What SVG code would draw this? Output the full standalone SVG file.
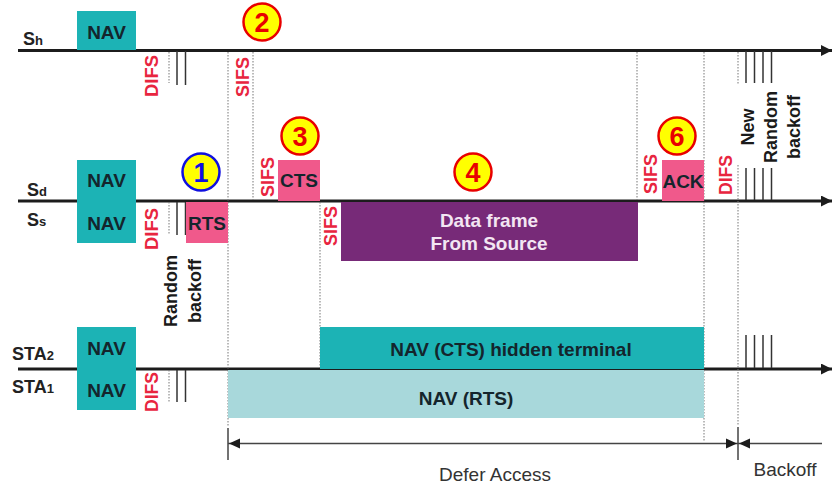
<svg xmlns="http://www.w3.org/2000/svg" width="834" height="485" viewBox="0 0 834 485">
<defs>
<marker id="arr" viewBox="0 0 10 10" refX="10" refY="5" markerWidth="11" markerHeight="11" markerUnits="userSpaceOnUse" orient="auto"><path d="M0,0 L10,5 L0,10 Z" fill="#1c1c1c"/></marker>
<style>
.axis{stroke:#1c1c1c;stroke-width:3;fill:none}
.dot{stroke:#777;stroke-width:1;stroke-dasharray:1.5 1.5;fill:none}
.tick{stroke:#333;stroke-width:1.5;fill:none}
.thin{stroke:#444;stroke-width:1.5;fill:none}
.nav{fill:#1cb3b5}
.lt{fill:#a8d8db}
.pink{fill:#f0598b}
.purple{fill:#772a78}
.lbl{font-family:"Liberation Sans",Arial,sans-serif;font-weight:bold;font-size:19px;fill:#14252c;text-anchor:middle}
.red{font-family:"Liberation Sans",Arial,sans-serif;font-weight:bold;font-size:19px;fill:#e8253f;text-anchor:middle}
.blk{font-family:"Liberation Sans",Arial,sans-serif;font-weight:bold;font-size:18px;fill:#1a1a1a;text-anchor:middle}
.row{font-family:"Liberation Sans",Arial,sans-serif;font-weight:bold;font-size:18px;fill:#222}
.plain{font-family:"Liberation Sans",Arial,sans-serif;font-size:19px;fill:#333;text-anchor:middle}
.circ{fill:#ffff00;stroke:#e80000;stroke-width:2.5}
.num{font-family:"Liberation Sans",Arial,sans-serif;font-weight:bold;font-size:27px;fill:#e80000;text-anchor:middle}
</style>
</defs>

<g id="connectors">
<!-- time axes -->
<line class="axis" x1="18" y1="50.5" x2="832" y2="50.5" marker-end="url(#arr)"/>
<line class="axis" x1="18" y1="201" x2="832" y2="201" marker-end="url(#arr)"/>
<line class="axis" x1="18" y1="369" x2="832" y2="369" marker-end="url(#arr)"/>
<!-- dotted guides -->
<line class="dot" x1="228" y1="52" x2="228" y2="426"/>
<line class="dot" x1="253" y1="52" x2="253" y2="200"/>
<line class="dot" x1="320" y1="202" x2="320" y2="368"/>
<line class="dot" x1="637" y1="52" x2="637" y2="200"/>
<line class="dot" x1="704" y1="52" x2="704" y2="442"/>
<line class="dot" x1="738" y1="52" x2="738" y2="84"/>
<line class="dot" x1="738" y1="165" x2="738" y2="426"/>
<!-- DIFS / backoff slots -->
<line class="dot" x1="169" y1="52" x2="169" y2="83"/>
<line class="tick" x1="177" y1="51" x2="177" y2="85"/>
<line class="tick" x1="185.5" y1="51" x2="185.5" y2="85"/>
<line class="dot" x1="169" y1="202" x2="169" y2="235"/>
<line class="tick" x1="177" y1="202" x2="177" y2="235"/>
<line class="tick" x1="185.5" y1="202" x2="185.5" y2="235"/>
<line class="dot" x1="169" y1="370" x2="169" y2="402"/>
<line class="tick" x1="177" y1="370" x2="177" y2="402"/>
<line class="tick" x1="185.5" y1="370" x2="185.5" y2="402"/>
<!-- new random backoff slots -->
<line class="tick" x1="746" y1="51" x2="746" y2="83"/>
<line class="tick" x1="754.5" y1="51" x2="754.5" y2="83"/>
<line class="tick" x1="763" y1="51" x2="763" y2="83"/>
<line class="tick" x1="771.5" y1="51" x2="771.5" y2="83"/>
<line class="tick" x1="746" y1="168" x2="746" y2="200"/>
<line class="tick" x1="754.5" y1="168" x2="754.5" y2="200"/>
<line class="tick" x1="763" y1="168" x2="763" y2="200"/>
<line class="tick" x1="771.5" y1="168" x2="771.5" y2="200"/>
<line class="tick" x1="746" y1="335" x2="746" y2="368"/>
<line class="tick" x1="754.5" y1="335" x2="754.5" y2="368"/>
<line class="tick" x1="763" y1="335" x2="763" y2="368"/>
<line class="tick" x1="771.5" y1="335" x2="771.5" y2="368"/>
<!-- defer access / backoff dimension -->
<line class="thin" x1="228" y1="428" x2="228" y2="460"/>
<line class="thin" x1="738" y1="427" x2="738" y2="460"/>
<line class="thin" x1="228" y1="443.5" x2="738" y2="443.5"/>
<line class="thin" x1="738" y1="443.5" x2="822" y2="443.5"/>
<path d="M229,443.5 L240,438.5 L240,448.5 Z" fill="#1c1c1c"/>
<path d="M737,443.5 L726,438.5 L726,448.5 Z" fill="#1c1c1c"/>
<path d="M739,443.5 L750,438.5 L750,448.5 Z" fill="#1c1c1c"/>
</g>

<g id="row-labels">
<text class="row" x="23" y="45">S<tspan font-size="13">h</tspan></text>
<text class="row" x="27" y="196">S<tspan font-size="13">d</tspan></text>
<text class="row" x="27" y="226">S<tspan font-size="13">s</tspan></text>
<text class="row" x="12" y="360">STA<tspan font-size="13">2</tspan></text>
<text class="row" x="12" y="393">STA<tspan font-size="13">1</tspan></text>
</g>

<g id="nav-sh"><rect class="nav" x="77" y="11" width="59" height="39"/><text class="lbl" x="106.5" y="38.5">NAV</text></g>
<g id="nav-sd"><rect class="nav" x="77" y="160" width="59" height="41"/><text class="lbl" x="106.5" y="187">NAV</text></g>
<g id="nav-ss"><rect class="nav" x="77" y="201" width="59" height="42"/><text class="lbl" x="106.5" y="230">NAV</text></g>
<g id="nav-sta2"><rect class="nav" x="77" y="327" width="59" height="42"/><text class="lbl" x="106.5" y="355">NAV</text></g>
<g id="nav-sta1"><rect class="nav" x="77" y="369" width="59" height="41"/><text class="lbl" x="106.5" y="397">NAV</text></g>

<g id="rts"><rect class="pink" x="186" y="202" width="42" height="41"/><text class="lbl" x="207" y="230">RTS</text></g>
<g id="cts"><rect class="pink" x="278" y="160" width="42" height="41"/><text class="lbl" x="299" y="187">CTS</text></g>
<g id="ack"><rect class="pink" x="662" y="160" width="42" height="41"/><text class="lbl" x="683" y="188">ACK</text></g>
<g id="data"><rect class="purple" x="341" y="202" width="297" height="59"/><text class="lbl" x="489" y="227" style="fill:#f3e6f3">Data frame</text><text class="lbl" x="489" y="250" style="fill:#f3e6f3">From Source</text></g>
<g id="nav-cts"><rect class="nav" x="320" y="327" width="384" height="42"/><text class="lbl" x="511" y="356">NAV (CTS) hidden terminal</text></g>
<g id="nav-rts"><rect class="lt" x="228" y="370" width="476" height="48"/><text class="lbl" x="466" y="405">NAV (RTS)</text></g>

<g id="ifs-labels">
<text class="red" transform="translate(158,76) rotate(-90)" textLength="42" lengthAdjust="spacingAndGlyphs">DIFS</text>
<text class="red" transform="translate(249,77) rotate(-90)" textLength="40" lengthAdjust="spacingAndGlyphs">SIFS</text>
<text class="red" transform="translate(158,229) rotate(-90)" textLength="42" lengthAdjust="spacingAndGlyphs">DIFS</text>
<text class="red" transform="translate(274,177) rotate(-90)" textLength="40" lengthAdjust="spacingAndGlyphs">SIFS</text>
<text class="red" transform="translate(337,226) rotate(-90)" textLength="40" lengthAdjust="spacingAndGlyphs">SIFS</text>
<text class="red" transform="translate(657,174) rotate(-90)" textLength="40" lengthAdjust="spacingAndGlyphs">SIFS</text>
<text class="red" transform="translate(732,175) rotate(-90)" textLength="40" lengthAdjust="spacingAndGlyphs">DIFS</text>
<text class="red" transform="translate(158,392) rotate(-90)" textLength="40" lengthAdjust="spacingAndGlyphs">DIFS</text>
</g>

<g id="backoff-labels">
<text class="blk" transform="translate(177,291) rotate(-90)">Random</text>
<text class="blk" transform="translate(201,291) rotate(-90)">backoff</text>
<text class="blk" transform="translate(754,127) rotate(-90)">New</text>
<text class="blk" transform="translate(777,127) rotate(-90)">Random</text>
<text class="blk" transform="translate(800,127) rotate(-90)">backoff</text>
<text class="plain" x="495" y="481">Defer Access</text>
<text class="plain" x="785" y="476">Backoff</text>
</g>

<g id="step1"><circle cx="201" cy="172" r="18.5" fill="#ffff00" stroke="#1010e0" stroke-width="2.5"/><text class="num" x="201" y="181.5" style="fill:#1010e0">1</text></g>
<g id="step2"><circle class="circ" cx="262" cy="22" r="18.5"/><text class="num" x="262" y="31.5">2</text></g>
<g id="step3"><circle class="circ" cx="300" cy="136" r="18.5"/><text class="num" x="300" y="145.5">3</text></g>
<g id="step4"><circle class="circ" cx="473" cy="172" r="18.5"/><text class="num" x="473" y="181.5">4</text></g>
<g id="step6"><circle class="circ" cx="677" cy="136" r="18.5"/><text class="num" x="677" y="145.5">6</text></g>
</svg>
